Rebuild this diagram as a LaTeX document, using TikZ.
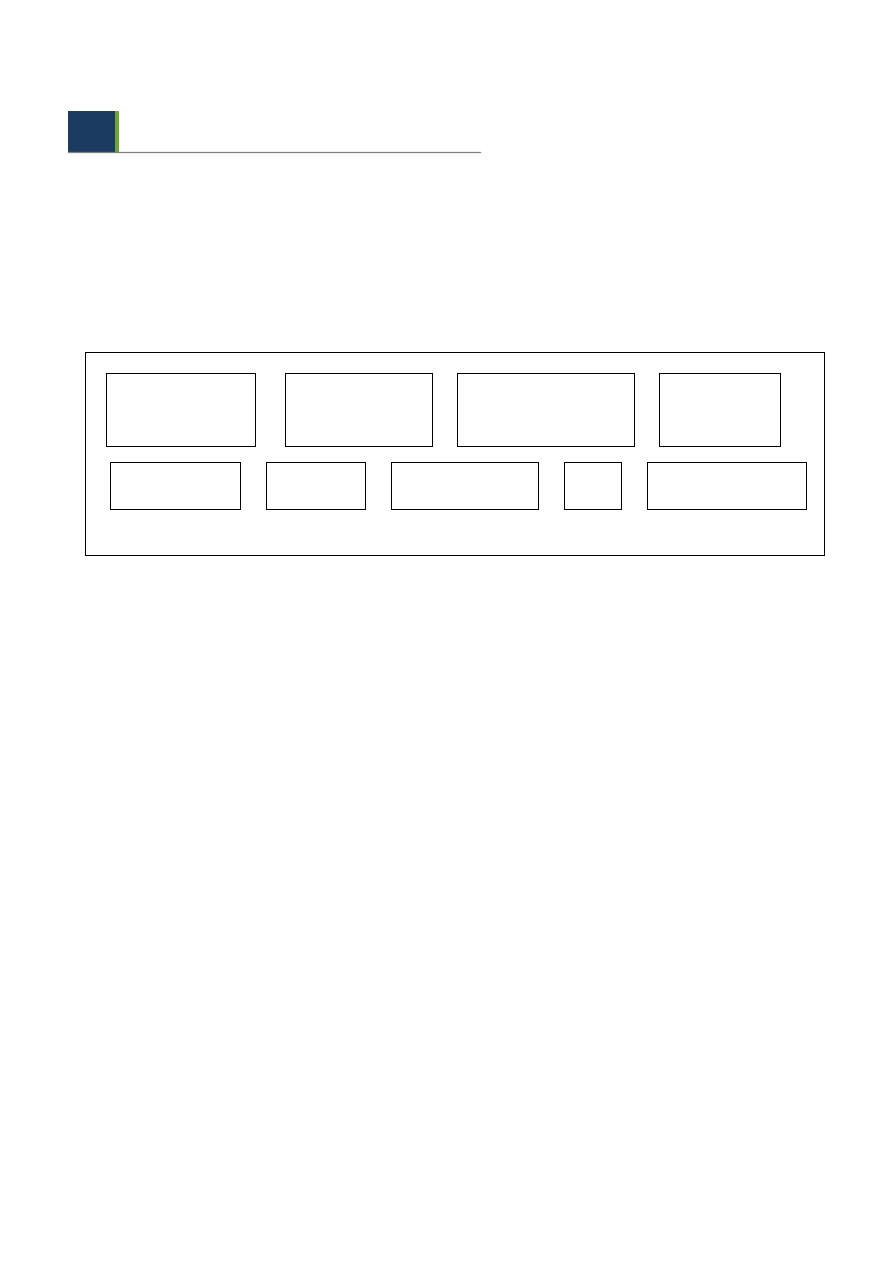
\documentclass[tikz,border=0pt]{standalone}
\usepackage{tikz}
\definecolor{hdrblue}{HTML}{1C3B61}
\definecolor{hdrgreen}{HTML}{6EA33A}
\definecolor{hdrgray}{HTML}{808080}
\begin{document}
\begin{tikzpicture}[x=1pt,y=-1pt,
  box/.style={draw=black,line width=1pt,inner sep=0pt,outer sep=0pt,anchor=north west,minimum width=#1},
  box/.default=10pt]
\useasboundingbox (0,0) rectangle (893,1262);
\fill[white] (0,0) rectangle (893,1262);
% header
\node[fill=hdrblue,inner sep=0pt,anchor=north west,minimum width=47pt,minimum height=41pt] (hb) at (68,111) {};
\node[fill=hdrgreen,inner sep=0pt,anchor=north west,minimum width=4pt,minimum height=41pt] (hg) at (115,111) {};
\coordinate (le) at (481,152.5);
\draw[hdrgray,line width=1.2pt] (hb.south west) -- (le);
% outer frame
\node[box=739pt,minimum height=203pt] (frame) at (85.3,352.3) {};
% top row
\node[box=149.4pt,minimum height=72.7pt] (t1) at (106.3,373.3) {};
\node[box=147pt,minimum height=72.7pt] (t2) at (285.3,373.3) {};
\node[box=177pt,minimum height=72.7pt] (t3) at (457.3,373.3) {};
\node[box=121pt,minimum height=72.7pt] (t4) at (659.3,373.3) {};
% bottom row
\node[box=130.4pt,minimum height=47pt] (b1) at (110.3,462.3) {};
\node[box=99.4pt,minimum height=47pt] (b2) at (266.3,462.3) {};
\node[box=147.4pt,minimum height=47pt] (b3) at (391.3,462.3) {};
\node[box=57.4pt,minimum height=47pt] (b4) at (564.3,462.3) {};
\node[box=159.4pt,minimum height=47pt] (b5) at (647.3,462.3) {};
\end{tikzpicture}
\end{document}
